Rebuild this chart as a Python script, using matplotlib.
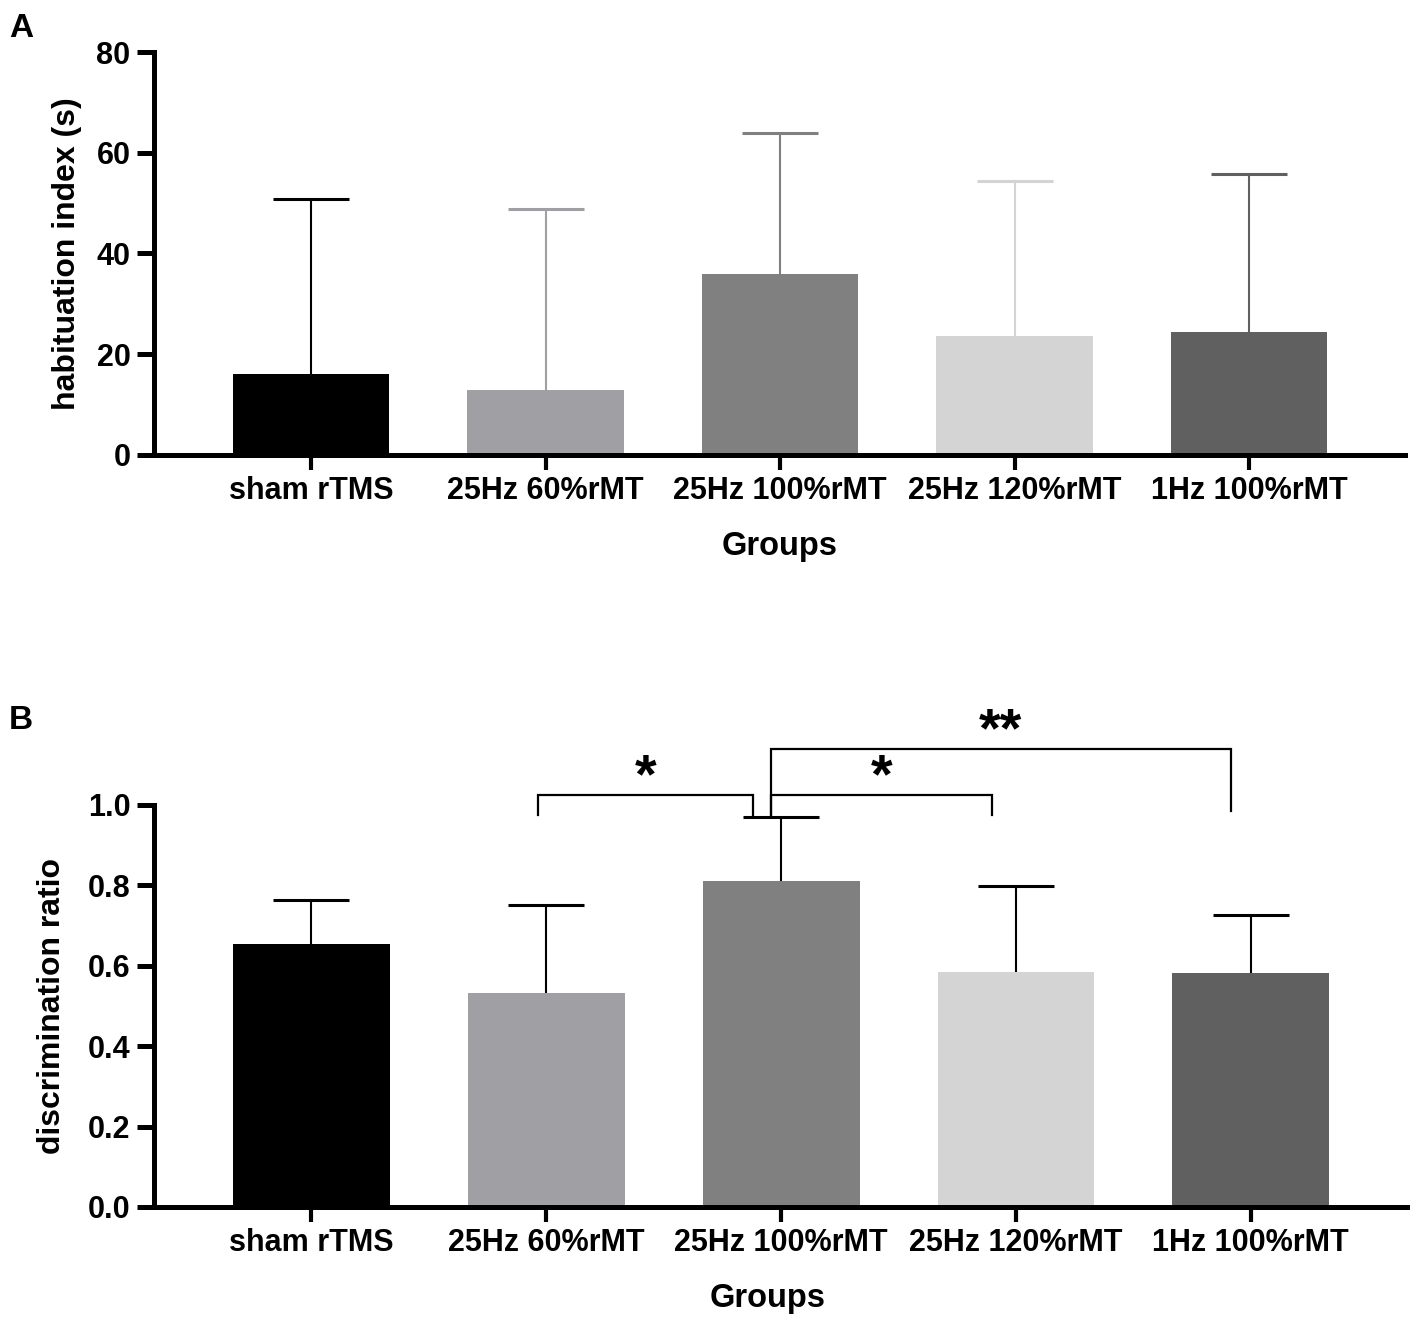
import matplotlib
matplotlib.use("Agg")
import matplotlib.pyplot as plt

plt.rcParams['font.family'] = ['Liberation Sans', 'DejaVu Sans']
plt.rcParams['font.weight'] = 'bold'

groups = ['sham rTMS', '25Hz 60%rMT', '25Hz 100%rMT', '25Hz 120%rMT', '1Hz 100%rMT']
colors = ['#000000', '#a0a0a4', '#808080', '#d4d4d4', '#606060']

# panel A: habituation index (s), mean and upper SD
hab_mean = [16.1, 12.9, 35.9, 23.6, 24.4]
hab_sd = [34.7, 35.9, 28.1, 30.8, 31.4]

# panel B: discrimination ratio, mean and upper SD
disc_mean = [0.654, 0.532, 0.811, 0.585, 0.582]
disc_sd = [0.110, 0.220, 0.159, 0.214, 0.145]

# significance brackets for B: (x left, x right, y top, y left leg, y right leg, label)
brackets = [
    (0.964, 1.881, 1.025, 0.975, 0.975, '*'),
    (1.957, 2.900, 1.025, 0.975, 0.975, '*'),
    (1.957, 3.915, 1.139, 0.975, 0.985, '**'),
]

W, H = 1417, 1321
fig = plt.figure(figsize=(W / 100, H / 100), dpi=100)


def px_axes(left, right, bottom, top):
    return fig.add_axes([left / W, 1 - bottom / H, (right - left) / W, (bottom - top) / H])


def style(ax):
    for s in ['top', 'right']:
        ax.spines[s].set_visible(False)
    for s in ['left', 'bottom']:
        ax.spines[s].set_linewidth(3.6)
    ax.tick_params(axis='y', length=12, width=3.6, pad=5, labelsize=22)
    ax.tick_params(axis='x', length=11, width=3.0, pad=4, labelsize=22)
    ax.set_xlim(-0.67, 4.665)
    ax.set_xticks(range(len(groups)))
    ax.set_xticklabels(groups, fontweight='bold')
    for t in ax.get_yticklabels():
        t.set_fontweight('bold')


def upper_errbars(ax, means, sds, ecols):
    for i in range(len(means)):
        eb = ax.errorbar(i, means[i], yerr=[[0], [sds[i]]], fmt='none',
                         ecolor=ecols[i], elinewidth=1.5, capsize=27.5,
                         capthick=2.2, zorder=1)
        # hide the cap at the bar top (lower side has zero length)
        eb[1][0].set_visible(False)


x = list(range(len(groups)))

# ---- A ----
axA = px_axes(154, 1405, 455, 52)
axA.bar(x, hab_mean, width=0.668, color=colors, zorder=2)
upper_errbars(axA, hab_mean, hab_sd, colors)
axA.set_ylim(0, 80)
axA.set_yticks([0, 20, 40, 60, 80])
style(axA)
axA.set_ylabel('habituation index (s)', fontsize=23, fontweight='bold')
axA.yaxis.set_label_coords(-0.0576, 0.5)
axA.set_xlabel('Groups', fontsize=23.5, fontweight='bold')
axA.xaxis.set_label_coords(0.5, -0.189)

# ---- B ----
axB = px_axes(154, 1407, 1207, 805)
axB.bar(x, disc_mean, width=0.668, color=colors, zorder=2)
upper_errbars(axB, disc_mean, disc_sd, ['black'] * len(groups))
axB.set_ylim(0, 1.0)
axB.set_yticks([0.0, 0.2, 0.4, 0.6, 0.8, 1.0])
axB.set_yticklabels(['0.0', '0.2', '0.4', '0.6', '0.8', '1.0'])
style(axB)
axB.set_ylabel('discrimination ratio', fontsize=23, fontweight='bold')
axB.yaxis.set_label_coords(-0.0695, 0.5)
axB.set_xlabel('Groups', fontsize=23.5, fontweight='bold')
axB.xaxis.set_label_coords(0.49, -0.189)

for x0, x1, yt, yl, yr, lab in brackets:
    axB.plot([x0, x0, x1, x1], [yl, yt, yt, yr], color='black', lw=1.6,
             clip_on=False, solid_joinstyle='miter')
    axB.text((x0 + x1) / 2, yt + 0.006, lab, ha='center', va='baseline',
             fontsize=40, fontweight='bold', clip_on=False)

fig.text(9 / W, 1 - 37 / H, 'A', fontsize=24, fontweight='bold', ha='left', va='baseline')
fig.text(9 / W, 1 - 729 / H, 'B', fontsize=24, fontweight='bold', ha='left', va='baseline')

fig.savefig('out.png', dpi=100)
